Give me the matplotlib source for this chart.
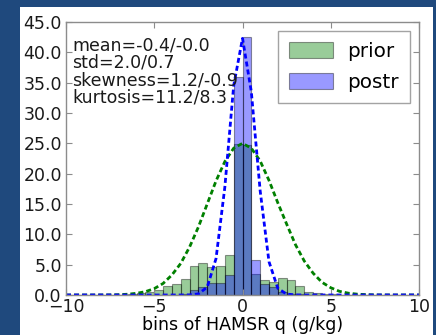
"""Prior vs posterior histogram of HAMSR q with fitted curves."""
import numpy as np
import matplotlib
matplotlib.use("Agg")
import matplotlib.pyplot as plt
from matplotlib.patches import Rectangle
from matplotlib.ticker import FormatStrFormatter

# histogram bins (g/kg), width 0.5
BIN_EDGES = np.arange(-10.0, 10.01, 0.5)

# percent per bin, left edge -10 .. 9.5
PRIOR = [0, 0, 0, 0, 0, 0, 0.05, 0.1, 0.3, 0.5,
         0.85, 1.45, 1.85, 2.7, 4.7, 5.3, 4.6, 4.7, 6.6, 24.9,
         24.7, 3.45, 2.55, 2.1, 2.8, 2.4, 1.45, 0.5, 0.25, 0.15,
         0.1, 0.05, 0, 0, 0, 0, 0, 0, 0, 0]
POSTR = [0, 0, 0, 0, 0, 0, 0, 0, 0, 0,
         0, 0, 0.05, 0.15, 0.8, 1.4, 1.9, 2.0, 3.3, 36.0,
         42.5, 5.8, 1.75, 1.35, 0.5, 0.2, 0.1, 0.05, 0, 0,
         0, 0, 0, 0, 0, 0, 0, 0, 0, 0]

# dashed curves sampled every 0.5 from -10 to 10
CURVE_X = np.arange(-10.0, 10.01, 0.5)
PRIOR_CURVE = [0, 0, 0, 0, 0.01, 0.02, 0.05, 0.13, 0.28, 0.55,
               1.05, 1.9, 3.3, 5.2, 7.9, 11.2, 15.0, 18.8, 22.0, 24.2,
               25.0, 24.2, 22.1, 18.9, 15.2, 11.7, 8.3, 5.6, 3.6, 2.1,
               1.2, 0.6, 0.3, 0.14, 0.06, 0.02, 0.01, 0, 0, 0, 0]
POSTR_CURVE = [0, 0, 0, 0, 0, 0, 0, 0, 0, 0,
               0, 0, 0, 0, 0.02, 0.17, 1.3, 6.0, 17.8, 34.5,
               42.3, 33.5, 17.2, 5.5, 1.1, 0.15, 0.02, 0, 0, 0,
               0, 0, 0, 0, 0, 0, 0, 0, 0, 0, 0]

STATS = ["mean=-0.4/-0.0", "std=2.0/0.7", "skewness=1.2/-0.9", "kurtosis=11.2/8.3"]

FS = 12.5
plt.rcParams.update({
    "font.family": "DejaVu Sans",
    "font.size": FS,
    "axes.edgecolor": "#8c8c8c",
    "axes.linewidth": 1.0,
    "xtick.direction": "in",
    "ytick.direction": "in",
    "xtick.top": True,
    "ytick.right": True,
    "xtick.color": "#8c8c8c",
    "ytick.color": "#8c8c8c",
    "xtick.labelcolor": "#1a1a1a",
    "ytick.labelcolor": "#1a1a1a",
    "xtick.major.size": 4,
    "ytick.major.size": 4,
    "xtick.major.pad": 2,
    "ytick.major.pad": 3,
})

fig = plt.figure(figsize=(4.36, 3.35), dpi=100, facecolor="#1f497d")
fig.patches.append(Rectangle((20 / 436, 0), 413 / 436, 328 / 335,
                             transform=fig.transFigure, facecolor="white",
                             edgecolor="none", zorder=-10))
ax = fig.add_axes([66 / 436, 40 / 335, 353 / 436, 273 / 335])

width = BIN_EDGES[1] - BIN_EDGES[0]
ax.bar(BIN_EDGES[:-1], PRIOR, width=width, align="edge",
       color=(0, 0.5, 0, 0.4), edgecolor=(0, 0, 0, 0.4), linewidth=0.8, label="prior")
ax.bar(BIN_EDGES[:-1], POSTR, width=width, align="edge",
       color=(0, 0, 1, 0.4), edgecolor=(0, 0, 0, 0.4), linewidth=0.8, label="postr")

ax.plot(CURVE_X, PRIOR_CURVE, color="#008000", lw=2.0, ls=(0, (1.8, 1.1)))
ax.plot(CURVE_X, POSTR_CURVE, color="#0000ff", lw=2.0, ls=(0, (1.8, 1.1)))

ax.set_xlim(-10, 10)
ax.set_ylim(0, 45)
ax.set_xticks([-10, -5, 0, 5, 10])
ax.set_yticks(np.arange(0, 45.1, 5))
ax.yaxis.set_major_formatter(FormatStrFormatter("%.1f"))
ax.set_xlabel("bins of HAMSR q (g/kg)", labelpad=0)

for i, s in enumerate(STATS):
    ax.text(0.017, 0.915 - i * 0.064, s, transform=ax.transAxes,
            va="center", ha="left", color="#1a1a1a")

leg = ax.legend(loc="upper right", fancybox=False, fontsize=14.4,
                handlelength=2.2, handleheight=0.85, labelspacing=0.6,
                borderaxespad=0.45, handletextpad=0.7, borderpad=0.55)
leg.get_frame().set_edgecolor("#8c8c8c")
leg.get_frame().set_linewidth(1.0)

fig.savefig("out.png", dpi=100, facecolor=fig.get_facecolor())
